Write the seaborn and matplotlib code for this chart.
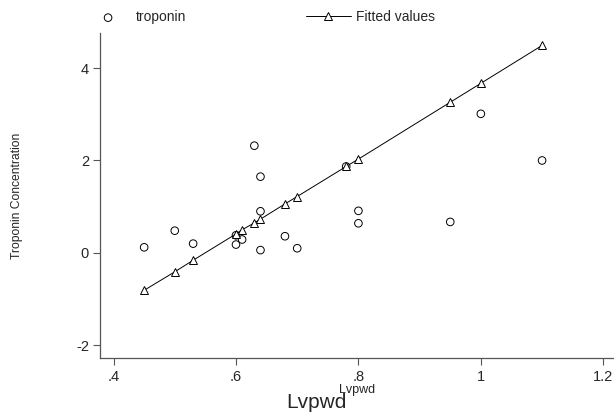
import numpy as np
import pandas as pd
import matplotlib
matplotlib.use("Agg")
import matplotlib.pyplot as plt
import seaborn as sns

lvpwd = [0.45, 0.50, 0.53, 0.60, 0.60, 0.61, 0.63, 0.64, 0.64, 0.64,
         0.68, 0.70, 0.78, 0.80, 0.80, 0.95, 1.00, 1.10]
troponin = [0.12, 0.48, 0.20, 0.38, 0.18, 0.29, 2.32, 1.65, 0.90, 0.06,
            0.36, 0.10, 1.87, 0.91, 0.64, 0.67, 3.01, 2.00]

# fitted values (triangles on the regression line)
fit_x = [0.45, 0.50, 0.53, 0.60, 0.61, 0.63, 0.64, 0.68, 0.70, 0.78, 0.80, 0.95, 1.00, 1.10]
fit_y = [-0.81, -0.41, -0.16, 0.41, 0.50, 0.65, 0.73, 1.06, 1.22, 1.87, 2.03, 3.26, 3.67, 4.49]

x_ticks = [0.4, 0.6, 0.8, 1.0, 1.2]
x_ticklabels = [".4", ".6", ".8", "1", "1.2"]
y_ticks = [-2, 0, 2, 4]
y_ticklabels = ["-2", "0", "2", "4"]

obs_df = pd.DataFrame({"lvpwd": lvpwd, "troponin": troponin})
fit_df = pd.DataFrame({"lvpwd": fit_x, "fitted": fit_y})

sns.set_style("ticks")
plt.rcParams["font.family"] = ["Liberation Sans", "DejaVu Sans"]

fig = plt.figure(figsize=(6.14, 4.12), dpi=100)
ax = fig.add_axes([0.163, 0.13, 0.837, 0.79])

# fitted line with triangle markers
sns.lineplot(data=fit_df, x="lvpwd", y="fitted", ax=ax, color="black", linewidth=0.7,
             marker="^", markersize=6, markerfacecolor="white", markeredgecolor="black",
             markeredgewidth=0.7, label="Fitted values", legend=False)
# observed points as hollow circles
sns.scatterplot(data=obs_df, x="lvpwd", y="troponin", ax=ax, marker="o", s=30,
                facecolor="none", edgecolor="black", linewidth=0.7, label="troponin", legend=False)

ax.set_xlim(0.378, 1.2175)
ax.set_ylim(-2.285, 4.76)
ax.set_xticks(x_ticks)
ax.set_xticklabels(x_ticklabels)
ax.set_yticks(y_ticks)
ax.set_yticklabels(y_ticklabels)
ax.tick_params(axis="both", labelsize=10.5, length=5, width=0.8, color="#555555", pad=3)

for side in ["top", "right"]:
    ax.spines[side].set_visible(False)
for side in ["left", "bottom"]:
    ax.spines[side].set_color("#555555")
    ax.spines[side].set_linewidth(0.9)

ax.set_xlabel("Lvpwd", fontsize=9, labelpad=0.5)
ax.set_ylabel("")
fig.text(0.027, 0.525, "Troponin Concentration", rotation=90, fontsize=8.7,
         ha="center", va="center")
fig.text(0.515, 0.0, "Lvpwd", fontsize=15, ha="center", va="bottom")

# legend above the plot, reorder so troponin comes first
handles, labels = ax.get_legend_handles_labels()
order = [labels.index("troponin"), labels.index("Fitted values")]
fig.legend([handles[i] for i in order], [labels[i] for i in order],
           loc="center left", bbox_to_anchor=(0.119, 0.958), ncol=2, frameon=False,
           fontsize=10, handlelength=3.24, handletextpad=0.4, columnspacing=8.6)

fig.savefig("out.png", dpi=100)
